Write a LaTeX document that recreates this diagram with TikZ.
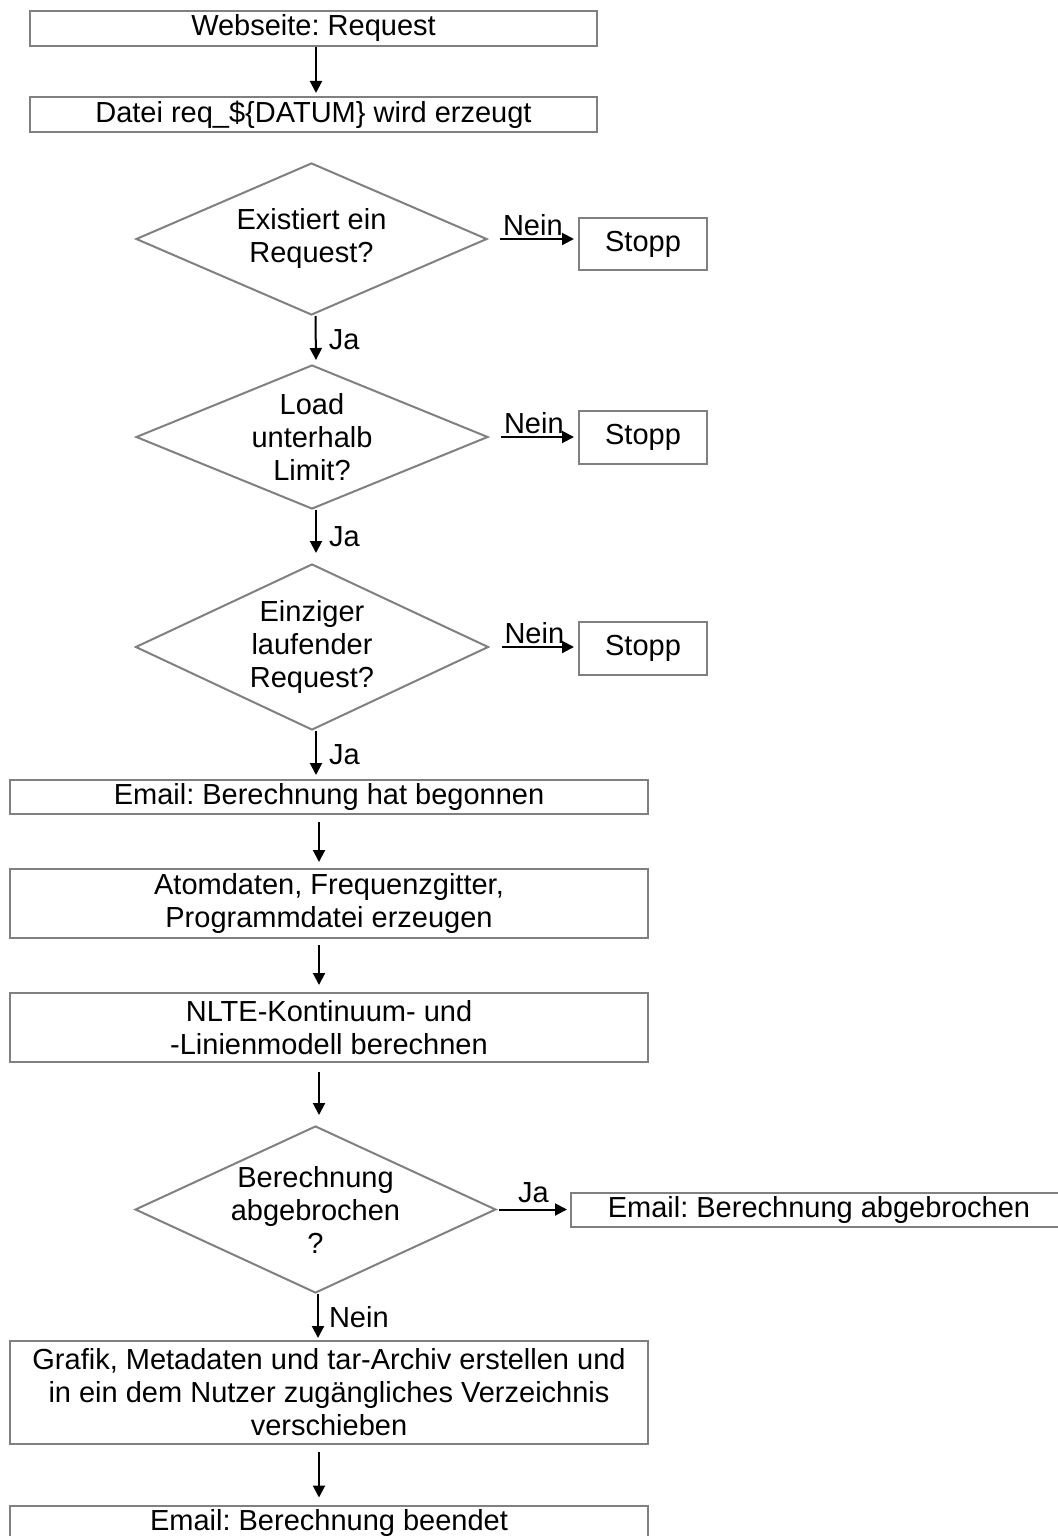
\documentclass[tikz,border=0pt]{standalone}
\usepackage{fontspec}
\setmainfont{Liberation Sans}
\usetikzlibrary{shapes.geometric,arrows.meta}
\definecolor{rahmen}{RGB}{128,128,128}
\frenchspacing

\begin{document}
\begin{tikzpicture}[
    x=0.5pt, y=-0.5pt,
    every node/.style={font=\fontsize{14.5}{16.5}\selectfont, inner sep=0pt},
    kasten/.style={rectangle, draw=rahmen, line width=1pt, align=center},
    frage/.style={diamond, draw=rahmen, line width=1pt, align=center, aspect=2.2},
    pfeil/.style={-{Triangle[length=6pt,width=6pt]}, line width=1pt}
]
    \useasboundingbox (0,0) rectangle (1057,1536);

    % Start
    \node[kasten, minimum width=283.5pt, minimum height=17.5pt] (web) at (313.5,28.5) {Webseite: Request};
    \node[kasten, minimum width=283.5pt, minimum height=17.5pt] (datei) at (313.5,114.5) {Datei req\_\$\{DATUM\} wird erzeugt};

    % Abfragen
    \node[frage, minimum width=175.5pt, minimum height=76pt] (frage1) at (311.5,239) {Existiert ein\\Request?};
    \node[kasten, minimum width=64pt, minimum height=26pt] (stopp1) at (643,244) {Stopp};

    \node[frage, minimum width=176pt, minimum height=72pt] (frage2) at (312,437) {Load\\unterhalb\\Limit?};
    \node[kasten, minimum width=64pt, minimum height=26.5pt] (stopp2) at (643,437.5) {Stopp};

    \node[frage, minimum width=176.5pt, minimum height=83pt] (frage3) at (312,647) {Einziger\\laufender\\Request?};
    \node[kasten, minimum width=64pt, minimum height=26.5pt] (stopp3) at (643,648.5) {Stopp};

    % Berechnung
    \node[kasten, minimum width=319pt, minimum height=17pt] (mail1) at (329,797) {Email: Berechnung hat begonnen};
    \node[kasten, minimum width=319pt, minimum height=34.5pt] (atom) at (329,903.5) {Atomdaten, Frequenzgitter,\\Programmdatei erzeugen};
    \node[kasten, minimum width=319pt, minimum height=34.5pt] (nlte) at (329,1027.5) {NLTE-Kontinuum- und\\-Linienmodell berechnen};

    \node[frage, minimum width=177.5pt, minimum height=83.5pt] (frage4) at (315.5,1209.5) {Berechnung\\abgebrochen\\?};
    \node[kasten, minimum width=248pt, minimum height=17pt] (abbruch) at (819,1210) {Email: Berechnung abgebrochen};

    \node[kasten, minimum width=319pt, minimum height=51.5pt] (grafik) at (329,1392.5) {Grafik, Metadaten und tar-Archiv erstellen und\\in ein dem Nutzer zugängliches Verzeichnis\\verschieben};
    \node[kasten, minimum width=319pt, minimum height=17.5pt] (ende) at (329,1523) {Email: Berechnung beendet};

    % Pfeile
    \draw[pfeil, shorten >=1.5pt] ([xshift=1.25pt]web.south) -- ([xshift=1.25pt]datei.north);

    \draw[pfeil, shorten <=6pt, shorten >=2pt] (frage1.east) -- (frage1.east -| stopp1.west)
        node[above right, pos=0, xshift=7pt, yshift=1pt] {Nein};
    \draw[pfeil, shorten >=2pt] ([xshift=2pt]frage1.south) -- ([xshift=2pt]frage2.north)
        node[right, midway, xshift=6pt] {Ja};

    \draw[pfeil, shorten <=6pt, shorten >=2pt] (frage2.east) -- (frage2.east -| stopp2.west)
        node[above right, pos=0, xshift=7pt, yshift=1pt] {Nein};
    \draw[pfeil, shorten >=5pt] ([xshift=2pt]frage2.south) -- ([xshift=2pt]frage3.north)
        node[right, midway, xshift=6pt] {Ja};

    \draw[pfeil, shorten <=6pt, shorten >=2pt] (frage3.east) -- (frage3.east -| stopp3.west)
        node[above right, pos=0, xshift=7pt, yshift=1pt] {Nein};
    \draw[pfeil, shorten >=2pt] ([xshift=2pt]frage3.south) -- ([xshift=2pt]frage3.south |- mail1.north)
        node[right, midway, xshift=6pt] {Ja};

    \draw[pfeil, shorten <=3.5pt, shorten >=3pt] ([xshift=-5pt]mail1.south) -- ([xshift=-5pt]atom.north);
    \draw[pfeil, shorten <=3pt, shorten >=3.5pt] ([xshift=-5pt]atom.south) -- ([xshift=-5pt]nlte.north);
    \draw[pfeil, shorten <=4.5pt, shorten >=5pt] ([xshift=-5pt]nlte.south) -- ([xshift=-5pt]nlte.south |- frage4.north);

    \draw[pfeil, shorten <=1pt, shorten >=1.5pt] (frage4.east) -- (frage4.east -| abbruch.west)
        node[above, midway, yshift=3pt] {Ja};
    \draw[pfeil, shorten >=1pt] ([xshift=1.25pt]frage4.south) -- ([xshift=1.25pt]frage4.south |- grafik.north)
        node[right, midway, xshift=5pt] {Nein};

    \draw[pfeil, shorten <=3.5pt, shorten >=3.5pt] ([xshift=-5pt]grafik.south) -- ([xshift=-5pt]ende.north);
\end{tikzpicture}
\end{document}
